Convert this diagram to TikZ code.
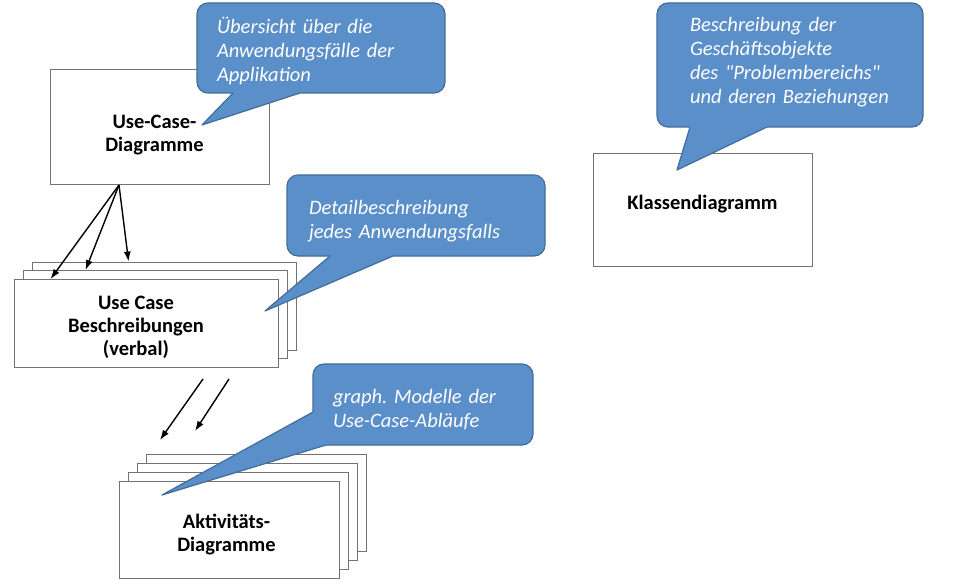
\documentclass[tikz,border=0pt]{standalone}
\usepackage{fontspec}
\setmainfont{Carlito}[Ligatures=TeXOff]
\usetikzlibrary{arrows.meta}

\definecolor{callfill}{RGB}{91,143,201}
\definecolor{calldraw}{RGB}{65,108,155}
\definecolor{boxline}{RGB}{115,115,115}

\begin{document}
\frenchspacing
\begin{tikzpicture}[x=1pt, y=-1pt, >={Latex[length=10pt,width=7pt]},
  box/.style={draw=boxline, line width=0.9pt, fill=white, inner sep=0pt},
  boxtext/.style={align=center, inner sep=0pt, font=\fontsize{20.5}{23}\selectfont\bfseries},
  bubble/.style={draw=calldraw, line width=1.2pt, fill=callfill, rounded corners=11pt, inner sep=0pt},
  bubbletext/.style={text=white, align=left, inner sep=0pt, font=\fontsize{20.5}{24}\selectfont\itshape},
  tail/.style={fill=callfill},
  tailline/.style={draw=calldraw, line width=1.2pt, line join=round},
  flow/.style={->, line width=1.4pt}]
\useasboundingbox (0,0) rectangle (957,585);
% boxes
\node[box, minimum width=219pt, minimum height=115pt,
  label={[boxtext, xshift=-5pt, yshift=-9pt]center:{Use-Case-\\Diagramme}}] (ucd) at (159.5,126.5) {};
\node[box, minimum width=264pt, minimum height=88pt] (ucb3) at (164,306) {};
\node[box, minimum width=264pt, minimum height=88pt] (ucb2) at (155,314.5) {};
\node[box, minimum width=264pt, minimum height=88pt,
  label={[boxtext, xshift=-10pt, yshift=-4pt]center:{Use Case\\Beschreibungen\\(verbal)}}] (ucb1) at (146,323.5) {};
\node[box, minimum width=220pt, minimum height=97pt] (act4) at (256.5,503.4) {};
\node[box, minimum width=220pt, minimum height=97pt] (act3) at (247.5,512.1) {};
\node[box, minimum width=220pt, minimum height=97pt] (act2) at (238.5,520.8) {};
\node[box, minimum width=220pt, minimum height=97pt,
  label={[boxtext, xshift=-3pt, yshift=-5pt]center:{Aktivitäts-\\Diagramme}}] (act1) at (229.5,529.5) {};
\node[box, minimum width=219pt, minimum height=113pt,
  label={[boxtext, yshift=5pt]center:Klassendiagramm}] (klasse) at (702.5,209.5) {};
% arrows
\coordinate (ucdfoot) at (119,185);
\draw[flow] (ucdfoot) -- ([xshift=37pt]ucb1.north west);
\draw[flow] (ucdfoot) -- ([xshift=63pt]ucb2.north west);
\draw[flow] (ucdfoot) -- ([xshift=97pt]ucb3.north west);
\coordinate (ucbout1) at (203,379);\coordinate (ucbout2) at (229,379);
\coordinate (actin1) at (160,440);\coordinate (actin2) at (195,431);
\draw[flow] (ucbout1) -- (actin1);
\draw[flow] (ucbout2) -- (actin2);
% callouts
\node[bubble, minimum width=248pt, minimum height=90pt,
  label={[bubbletext, text width=208pt, yshift=-3pt]center:{Übersicht über die\\Anwendungsfälle der\\Applikation}}]
  (note1) at (321,48) {};
\coordinate (tip1) at (202,125);
\fill[tail] (233,89) -- (233,93) -- (tip1) -- (300,93) -- (300,89) -- cycle;
\draw[tailline] (233,93) -- (tip1) -- (300,93);
\node[bubble, minimum width=258pt, minimum height=81pt,
  label={[bubbletext, text width=214pt, yshift=-6pt]center:{Detailbeschreibung\\jedes Anwendungsfalls}}]
  (note2) at (416,215.5) {};
\coordinate (tip2) at (265,311);
\fill[tail] (330,252) -- (330,256) -- (tip2) -- (393,256) -- (393,252) -- cycle;
\draw[tailline] (330,256) -- (tip2) -- (393,256);
\node[bubble, minimum width=220pt, minimum height=81pt,
  label={[bubbletext, text width=180pt, yshift=-5pt]center:{graph. Modelle der\\Use-Case-Abläufe}}]
  (note3) at (423,404.5) {};
\coordinate (tip3) at (162,495);
\fill[tail] (317,412) -- (313,412) -- (tip3) -- (326,445) -- (326,441) -- cycle;
\draw[tailline] (313,412) -- (tip3) -- (326,445);
\node[bubble, minimum width=266pt, minimum height=124pt,
  label={[bubbletext, text width=200pt, yshift=3pt]center:{Beschreibung der\\Geschäftsobjekte\\des "Problembereichs"\\und deren Beziehungen}}]
  (note4) at (790,65) {};
\coordinate (tip4) at (677,170);
\fill[tail] (690,123) -- (690,127) -- (tip4) -- (767,127) -- (767,123) -- cycle;
\draw[tailline] (690,127) -- (tip4) -- (767,127);
\end{tikzpicture}
\end{document}
